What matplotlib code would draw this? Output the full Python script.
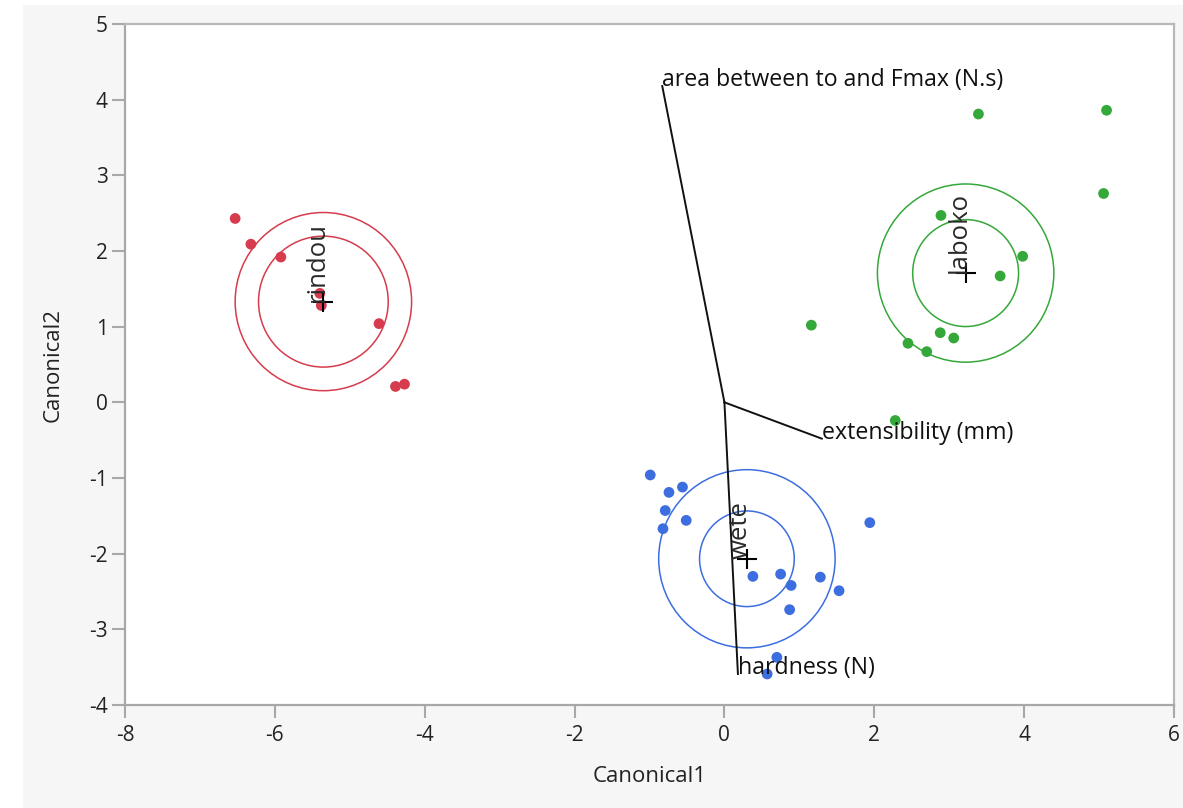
import numpy as np
import matplotlib
matplotlib.use("Agg")
import matplotlib.pyplot as plt
from matplotlib.patches import Ellipse, Rectangle

plt.rcParams['font.family'] = ['Open Sans', 'DejaVu Sans']

# Canonical scores per group
groups = ["rindou", "wete", "laboko"]
colors = ["#d63c4d", "#3c6ee0", "#35a83a"]

rindou_c1 = [-6.53, -6.32, -5.92, -5.40, -5.38, -4.61, -4.39, -4.27]
rindou_c2 = [2.43, 2.09, 1.92, 1.44, 1.28, 1.04, 0.21, 0.24]

wete_c1 = [-0.99, -0.74, -0.56, -0.79, -0.51, -0.82, 1.94, 0.38,
           0.75, 0.89, 1.28, 1.53, 0.87, 0.57, 0.70]
wete_c2 = [-0.96, -1.19, -1.12, -1.43, -1.56, -1.67, -1.59, -2.30,
           -2.27, -2.42, -2.31, -2.49, -2.74, -3.59, -3.37]

laboko_c1 = [3.39, 5.10, 5.06, 2.89, 3.98, 3.68, 2.88, 3.06, 2.45, 2.70, 2.28, 1.16]
laboko_c2 = [3.81, 3.86, 2.76, 2.47, 1.93, 1.67, 0.92, 0.85, 0.78, 0.67, -0.24, 1.02]

# Biplot rays for the original variables
ray_labels = ["area between to and Fmax (N.s)", "extensibility (mm)", "hardness (N)"]
ray_c1 = [-0.83, 1.30, 0.18]
ray_c2 = [4.18, -0.48, -3.59]

x_ticks = [-8, -6, -4, -2, 0, 2, 4, 6]
y_ticks = [-4, -3, -2, -1, 0, 1, 2, 3, 4, 5]

# 50% normal contour and 95% confidence region for each mean
CHI2_50 = 1.3863
CHI2_95 = 5.9915

fig = plt.figure(figsize=(11.83, 8.08), dpi=100, facecolor="white")
fig.patches.append(Rectangle((23 / 1183, 0), 1, 1 - 5 / 808, transform=fig.transFigure,
                             facecolor="#f6f6f6", edgecolor="none", zorder=-10))
ax = fig.add_axes([125 / 1183, 1 - 705 / 808, (1174 - 125) / 1183, (705 - 24) / 808])
ax.set_facecolor("white")

data = [(rindou_c1, rindou_c2), (wete_c1, wete_c2), (laboko_c1, laboko_c2)]
for name, col, (c1, c2) in zip(groups, colors, data):
    c1 = np.asarray(c1)
    c2 = np.asarray(c2)
    ax.scatter(c1, c2, s=60, color=col, edgecolors="none", zorder=3)
    mx, my = c1.mean(), c2.mean()
    r_outer = np.sqrt(CHI2_50)
    r_inner = np.sqrt(CHI2_95 / len(c1))
    for r in (r_inner, r_outer):
        ax.add_patch(Ellipse((mx, my), 2 * r, 2 * r, fill=False, edgecolor=col,
                             linewidth=1.1, zorder=2))
    ax.plot([mx], [my], marker="+", markersize=15, markeredgewidth=1.5,
            color="black", zorder=5)
    ax.text(mx, my, name, rotation=90, rotation_mode="anchor", ha="left",
            va="baseline", fontsize=18.5, color="#2a2a2a", zorder=6)

for lab, x, y in zip(ray_labels, ray_c1, ray_c2):
    ax.plot([0, x], [0, y], color="#111111", linewidth=1.4, zorder=4)
    ax.text(x, y, lab, ha="left", va="baseline", fontsize=16.7, color="#111111", zorder=6)

ax.set_xlim(-8, 6)
ax.set_ylim(-4, 5)
ax.set_xticks(x_ticks)
ax.set_yticks(y_ticks)
ax.set_xticklabels([str(t) for t in x_ticks])
ax.set_yticklabels([str(t) for t in y_ticks])
ax.tick_params(axis="both", direction="out", length=9.5, width=1.5, color="#a8a8a8",
               labelsize=15, labelcolor="#222222")
ax.tick_params(axis="x", pad=5)
ax.tick_params(axis="y", pad=3)

for side in ["left", "bottom"]:
    ax.spines[side].set_color("#a8a8a8")
    ax.spines[side].set_linewidth(1.6)
for side in ["top", "right"]:
    ax.spines[side].set_color("#b8b8b8")
    ax.spines[side].set_linewidth(1.6)

ax.set_xlabel("Canonical1", fontsize=16, color="#222222", labelpad=14)
ax.set_ylabel("Canonical2", fontsize=16, color="#222222", labelpad=18)

fig.savefig("out.png", dpi=100, facecolor=fig.get_facecolor())
